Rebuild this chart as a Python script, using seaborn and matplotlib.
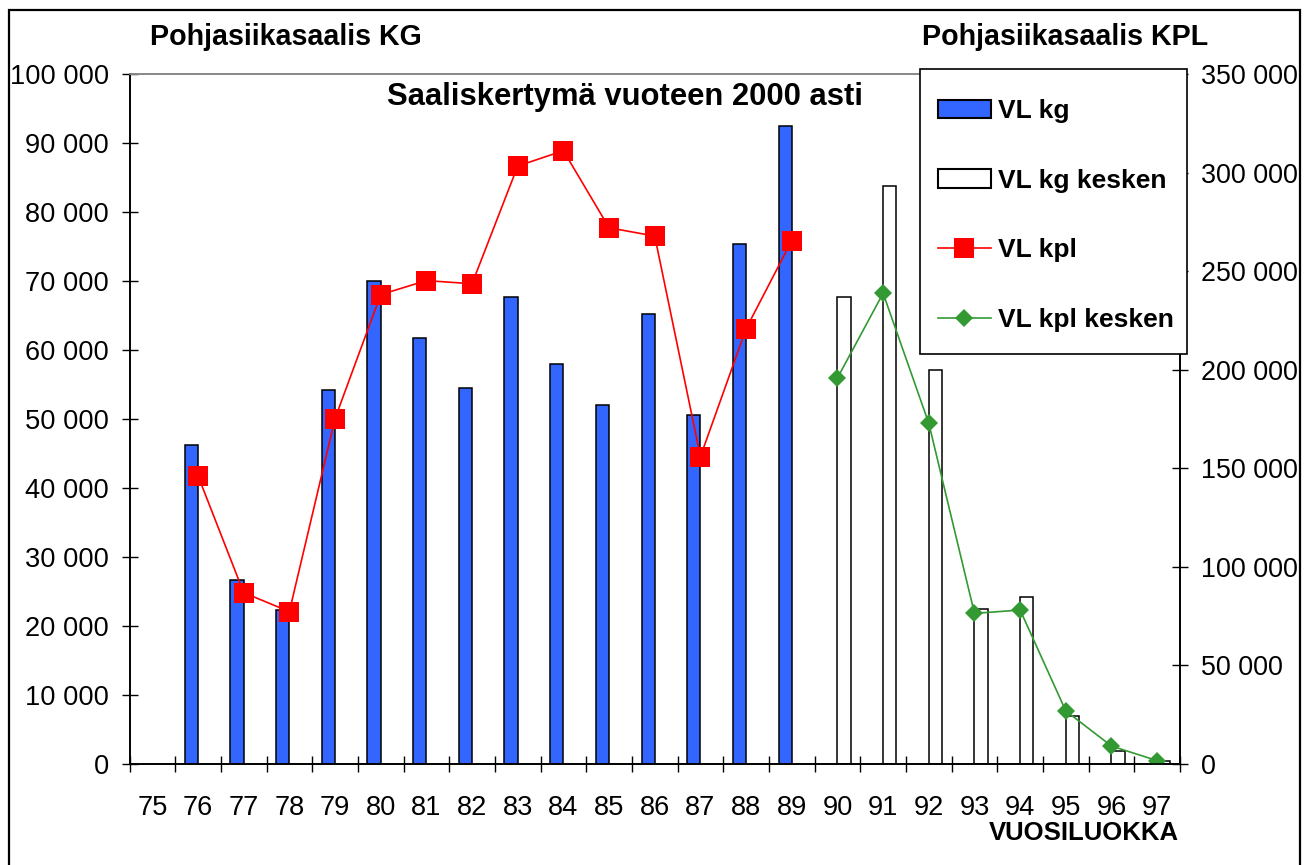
import matplotlib.pyplot as plt
import matplotlib.ticker as mticker
import pandas as pd
import numpy as np
import seaborn as sns
from matplotlib.patches import Rectangle, Patch

# vuosiluokat 75..97
years = [str(y) for y in range(75, 98)]

kg_years = ["76", "77", "78", "79", "80", "81", "82", "83", "84", "85", "86", "87", "88", "89"]
vl_kg = [46200, 26700, 22300, 54200, 70000, 61700, 54500, 67700, 58000, 52000, 65200, 50600, 75400, 92500]
vl_kpl = [146200, 86900, 77300, 175200, 238100, 245200, 243600, 303300, 311100, 272000, 267800, 155900, 220800, 265500]

kesken_years = ["90", "91", "92", "93", "94", "95", "96", "97"]
vl_kg_kesken = [67700, 83800, 57100, 22500, 24200, 7000, 1900, 400]
vl_kpl_kesken = [195800, 238800, 172800, 76400, 78100, 26900, 9100, 1700]

plt.rcParams["font.family"] = ["Liberation Sans", "DejaVu Sans"]

bars = pd.DataFrame({
    "vuosi": kg_years + kesken_years,
    "kg": vl_kg + vl_kg_kesken,
    "sarja": ["VL kg"] * len(kg_years) + ["VL kg kesken"] * len(kesken_years),
})

fig = plt.figure(figsize=(13.1, 8.65), dpi=100)
ax = fig.add_axes([129.5 / 1310, 101 / 865, 1050.5 / 1310, 690 / 865])

sns.barplot(data=bars, x="vuosi", y="kg", hue="sarja", order=years,
            hue_order=["VL kg", "VL kg kesken"],
            palette={"VL kg": "#3366FF", "VL kg kesken": "white"},
            edgecolor="black", linewidth=1.1, width=0.58, dodge=True,
            errorbar=None, saturation=1, ax=ax)
ax.get_legend().remove()

ax2 = ax.twinx()
pos_kg = [years.index(y) for y in kg_years]
pos_kesken = [years.index(y) for y in kesken_years]
sns.lineplot(x=pos_kg, y=vl_kpl, ax=ax2, color="#FF0000", linewidth=1.2,
             marker="s", markersize=14.5, markeredgewidth=0, label="VL kpl")
sns.lineplot(x=pos_kesken, y=vl_kpl_kesken, ax=ax2, color="#339933", linewidth=1.2,
             marker="D", markersize=9.5, markeredgewidth=0, label="VL kpl kesken")

ax.set_xlim(-0.5, len(years) - 0.5)
ax.set_ylim(0, 100000)
ax2.set_ylim(0, 350000)
ax.set_yticks(np.arange(0, 100001, 10000))
ax2.set_yticks(np.arange(0, 350001, 50000))

fmt = mticker.FuncFormatter(lambda v, p: f"{int(v):,}".replace(",", " "))
ax.yaxis.set_major_formatter(fmt)
ax2.yaxis.set_major_formatter(fmt)

ax.set_xticks(range(len(years)))
ax.set_xticklabels(years)
ax.set_xticks(np.arange(-0.5, len(years), 1), minor=True)
ax.tick_params(axis="x", which="major", length=0, labelsize=19.6, pad=22)
ax.tick_params(axis="x", which="minor", direction="inout", length=12, width=1)
ax.tick_params(axis="y", direction="inout", length=12, width=1, labelsize=19.6, pad=9)
ax2.tick_params(axis="y", direction="inout", length=12, width=1, labelsize=19.4, pad=9)

ax.set_xlabel("")
ax.set_ylabel("")
ax2.set_xlabel("")
ax2.set_ylabel("")

for a in (ax, ax2):
    a.spines["top"].set_color("#888888")
    a.spines["left"].set_color("black")
    a.spines["right"].set_color("black")
    a.spines["bottom"].set_color("black")
    for s in a.spines.values():
        s.set_linewidth(1.2)
    a.set_facecolor("none")

# legend box drawn separately so its padding matches the original
fig.patches.append(Rectangle((920 / 1310, 1 - 354 / 865), 267 / 1310, 285 / 865,
                             transform=fig.transFigure, facecolor="white",
                             edgecolor="black", linewidth=1.2, zorder=3))

h2, l2 = ax2.get_legend_handles_labels()
h_bars = [Patch(facecolor="#3366FF", edgecolor="black", linewidth=1.5),
          Patch(facecolor="white", edgecolor="black", linewidth=1.5)]
leg = fig.legend(h_bars + h2, ["VL kg", "VL kg kesken"] + l2,
                 loc="center", bbox_to_anchor=(1056 / 1310, 1 - 215.5 / 865),
                 borderaxespad=0, borderpad=0, frameon=False,
                 prop={"weight": "bold", "size": 19},
                 labelspacing=1.73, handlelength=2.0, handletextpad=0.28)
leg.set_zorder(4)

fig.text(150 / 1310, 1 - 45 / 865, "Pohjasiikasaalis KG", fontsize=20.6,
         fontweight="bold", va="baseline", ha="left")
fig.text(922 / 1310, 1 - 45 / 865, "Pohjasiikasaalis KPL", fontsize=20.6,
         fontweight="bold", va="baseline", ha="left")
fig.text(625 / 1310, 1 - 105 / 865, "Saaliskertymä vuoteen 2000 asti", fontsize=22.3,
         fontweight="bold", va="baseline", ha="center")
fig.text(1179 / 1310, 1 - 840 / 865, "VUOSILUOKKA", fontsize=18.5,
         fontweight="bold", va="baseline", ha="right")

fig.patches.append(Rectangle((9 / 1310, -0.05), 1291 / 1310, 1.05 - 10 / 865,
                             transform=fig.transFigure, fill=False,
                             edgecolor="black", linewidth=1.6, zorder=3))

fig.savefig("out.png", dpi=100, facecolor="white")
